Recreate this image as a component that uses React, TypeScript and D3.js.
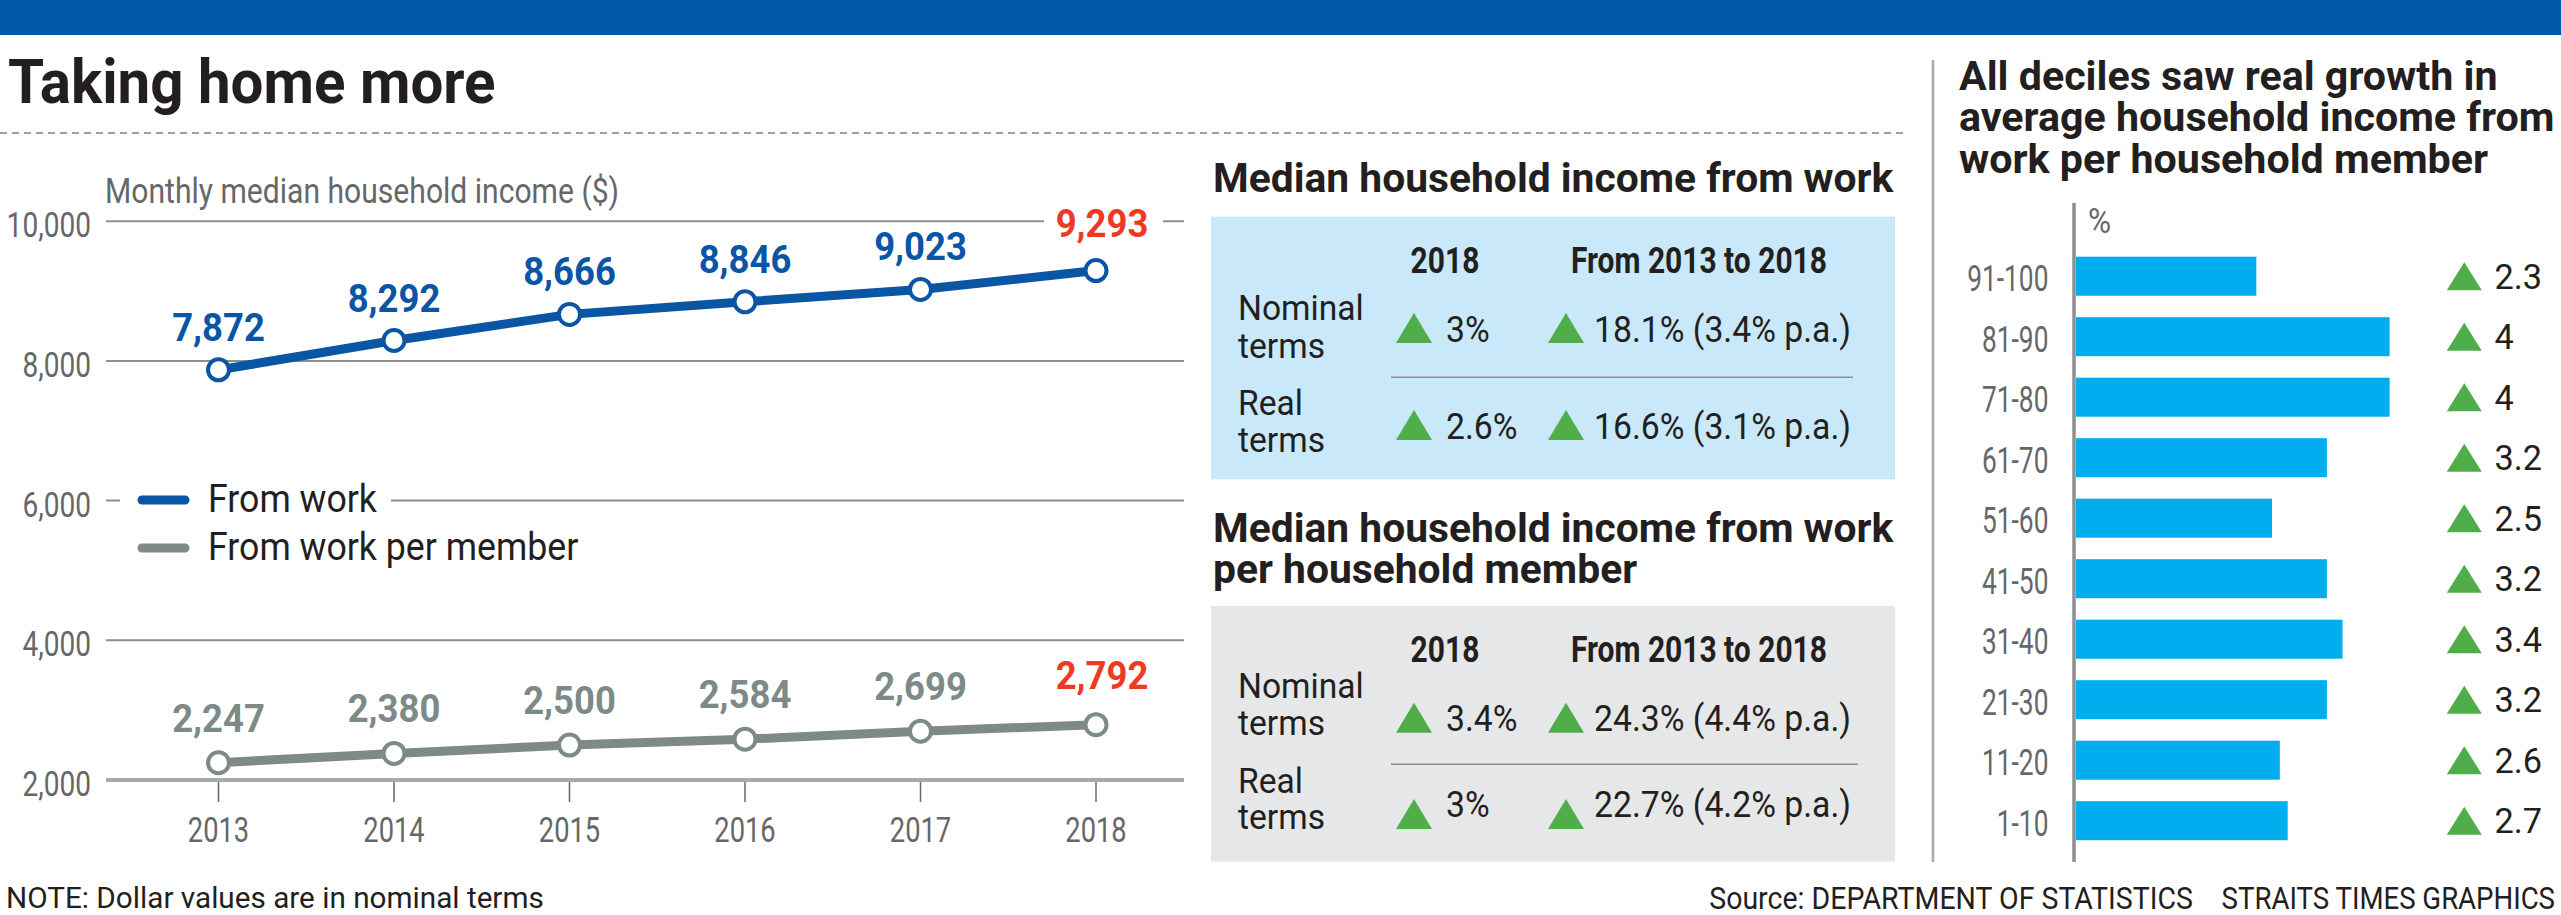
import React from 'react';
import * as d3 from 'd3';

// ---------- DATA ----------
const years = [2013, 2014, 2015, 2016, 2017, 2018];
const fromWork = [7872, 8292, 8666, 8846, 9023, 9293];
const perMember = [2247, 2380, 2500, 2584, 2699, 2792];
const yTicks = [2000, 4000, 6000, 8000, 10000];
const legendLabels = ['From work', 'From work per member'];

const tableHeaders = ['2018', 'From 2013 to 2018'];
const rowLabels = [['Nominal', 'terms'], ['Real', 'terms']];
const workYear = ['3%', '2.6%'];
const workPeriod = ['18.1% (3.4% p.a.)', '16.6% (3.1% p.a.)'];
const memberYear = ['3.4%', '3%'];
const memberPeriod = ['24.3% (4.4% p.a.)', '22.7% (4.2% p.a.)'];

const deciles = ['91-100', '81-90', '71-80', '61-70', '51-60', '41-50', '31-40', '21-30', '11-20', '1-10'];
const decileGrowth = [2.3, 4, 4, 3.2, 2.5, 3.2, 3.4, 3.2, 2.6, 2.7];

// ---------- STYLE ----------
const C = {
  topBar: '#0058a8',
  blue: '#0a55a4',
  grey: '#7d8a88',
  red: '#ee3a23',
  green: '#4fae4a',
  cyan: '#00adee',
  boxBlue: '#c9e8fa',
  boxGrey: '#e6e7e8',
  ink: '#231f20',
  axisText: '#666769',
  grid: '#8d8f91',
  sep: '#a7a9ac',
};
const FONT = 'Roboto, "Noto Sans", sans-serif';

type TP = {
  x: number; y: number; sx?: number; anchor?: 'start' | 'middle' | 'end';
  size: number; weight?: number; fill?: string; children: React.ReactNode;
};
function T({ x, y, sx = 1, anchor = 'start', size, weight = 400, fill = C.ink, children }: TP) {
  return (
    <text
      transform={`translate(${x},${y}) scale(${sx},1)`}
      textAnchor={anchor}
      fontSize={size}
      fontWeight={weight}
      fill={fill}
      fontFamily={FONT}
    >
      {children}
    </text>
  );
}

function Tri({ cx, bottom, w = 36, h = 30 }: { cx: number; bottom: number; w?: number; h?: number }) {
  const p = d3.path();
  p.moveTo(cx - w / 2, bottom);
  p.lineTo(cx + w / 2, bottom);
  p.lineTo(cx, bottom - h);
  p.closePath();
  return <path d={p.toString()} fill={C.green} />;
}

// ---------- LINE CHART ----------
function LineChart() {
  const x = d3.scalePoint<string>().domain(years.map(String)).range([218.5, 1096]);
  const y = d3.scaleLinear().domain([2000, 10000]).range([780, 221.2]);
  const gx0 = 106, gx1 = 1184;
  const series = [
    { values: fromWork, color: C.blue, off: 29 },
    { values: perMember, color: C.grey, off: 31 },
  ];
  const line = (vals: number[]) =>
    d3.line<number>().x((_, i) => x(String(years[i]))!).y((d) => y(d))(vals)!;
  const fmt = d3.format(',');
  return (
    <g>
      <T x={105} y={203} size={35} sx={0.86} weight={400} fill={C.axisText}>
        Monthly median household income ($)
      </T>
      {yTicks.map((t) => (
        <g key={t}>
          {t !== 2000 && <line x1={gx0} x2={gx1} y1={y(t)} y2={y(t)} stroke={C.grid} strokeWidth={2} />}
          <T x={91} y={y(t) + 16} size={36} sx={0.78} weight={400} anchor="end" fill={C.axisText}>
            {fmt(t)}
          </T>
        </g>
      ))}
      {/* knockouts */}
      <rect x={120} y={488} width={271} height={24} fill="#fff" />
      <rect x={1044} y={212} width={119} height={22} fill="#fff" />
      {/* baseline */}
      <line x1={gx0} x2={gx1} y1={y(2000)} y2={y(2000)} stroke={C.sep} strokeWidth={4} />
      {years.map((yr) => (
        <g key={yr}>
          <line x1={x(String(yr))} x2={x(String(yr))} y1={782} y2={802} stroke={C.axisText} strokeWidth={1.5} />
          <T x={x(String(yr))!} y={842} size={35} sx={0.78} weight={400} anchor="middle" fill={C.axisText}>
            {yr}
          </T>
        </g>
      ))}
      {series.map((s, si) => (
        <g key={si}>
          <path d={line(s.values)} fill="none" stroke={s.color} strokeWidth={9} strokeLinejoin="round" />
          {s.values.map((v, i) => (
            <circle key={i} cx={x(String(years[i]))} cy={y(v)} r={10.5} fill="#fff" stroke={s.color} strokeWidth={4} />
          ))}
          {s.values.map((v, i) => (
            <T
              key={'l' + i}
              x={x(String(years[i]))! + (i === s.values.length - 1 ? 6 : 0)}
              y={y(v) - s.off - (i === s.values.length - 1 ? 5 : 0)}
              size={38}
              sx={0.96}
              weight={700}
              anchor="middle"
              fill={i === s.values.length - 1 ? C.red : s.color}
            >
              {fmt(v)}
            </T>
          ))}
        </g>
      ))}
      {/* legend */}
      {legendLabels.map((lab, i) => {
        const cy = 500 + i * 48;
        return (
          <g key={lab}>
            <line x1={142} x2={185} y1={cy} y2={cy} stroke={i === 0 ? C.blue : C.grey} strokeWidth={9} strokeLinecap="round" />
            <T x={208} y={cy + 12} size={38} sx={0.94}>
              {lab}
            </T>
          </g>
        );
      })}
    </g>
  );
}

// ---------- TABLES ----------
type PanelLayout = {
  top: number; height: number; fill: string;
  header: number; r1: [number, number]; v1: number; t1: number; sep: number;
  r2: [number, number]; v2: number; t2: number; sepEnd: number;
};
function Table({ L, yearVals, periodVals }: { L: PanelLayout; yearVals: string[]; periodVals: string[] }) {
  const bx = 1211, bw = 684;
  const top = L.top;
  const rows = [
    { labels: L.r1, v: L.v1, t: L.t1 },
    { labels: L.r2, v: L.v2, t: L.t2 },
  ];
  return (
    <g>
      <rect x={bx} y={top} width={bw} height={L.height} fill={L.fill} />
      <T x={1445} y={top + L.header} size={37} sx={0.81} weight={700} anchor="middle">{tableHeaders[0]}</T>
      <T x={1699} y={top + L.header} size={37} sx={0.81} weight={700} anchor="middle">{tableHeaders[1]}</T>
      <line x1={1391} x2={L.sepEnd} y1={top + L.sep} y2={top + L.sep} stroke="#8d8f91" strokeWidth={1.5} />
      {rows.map((r, i) => (
        <g key={i}>
          <T x={1238} y={top + r.labels[0]} size={35} sx={0.96}>{rowLabels[i][0]}</T>
          <T x={1238} y={top + r.labels[1]} size={35} sx={0.96}>{rowLabels[i][1]}</T>
          <Tri cx={1414} bottom={top + r.t} />
          <T x={1446} y={top + r.v} size={37.5} sx={0.9}>{yearVals[i]}</T>
          <Tri cx={1566} bottom={top + r.t} />
          <T x={1594} y={top + r.v} size={37.5} sx={0.9}>{periodVals[i]}</T>
        </g>
      ))}
    </g>
  );
}

const panel1: PanelLayout = {
  top: 216.7, height: 262.6, fill: C.boxBlue, header: 56,
  r1: [103.3, 141.6], v1: 125.3, t1: 126.3, sep: 160.6,
  r2: [198.3, 235], v2: 222.6, t2: 223.3, sepEnd: 1853,
};
const panel2: PanelLayout = {
  top: 606, height: 255.7, fill: C.boxGrey, header: 55.7,
  r1: [92.3, 129], v1: 124.7, t1: 126.7, sep: 158.3,
  r2: [186.7, 223.3], v2: 210.7, t2: 223, sepEnd: 1858,
};

// ---------- BAR CHART ----------
function BarChart() {
  const x = d3.scaleLinear().domain([0, 4]).range([2076, 2389.6]);
  const y = d3.scaleBand<string>().domain(deciles).range([256.7, 840.2]).paddingInner(0.355).paddingOuter(0);
  const bw = y.bandwidth();
  return (
    <g>
      <T x={1959} y={90} size={40} sx={1.03} weight={700}>All deciles saw real growth in</T>
      <T x={1959} y={130.7} size={40} sx={1.03} weight={700}>average household income from</T>
      <T x={1959} y={172.7} size={40} sx={1.03} weight={700}>work per household member</T>
      <T x={2088} y={233} size={35} sx={0.9} fill={C.axisText}>%</T>
      {deciles.map((d, i) => {
        const cy = y(d)! + bw / 2;
        return (
          <g key={d}>
            <rect x={x(0)} y={y(d)} width={x(decileGrowth[i]) - x(0)} height={bw} fill={C.cyan} />
            <T x={2048.4} y={cy + 15} size={36} sx={0.73} anchor="end" fill={C.axisText}>{d}</T>
            <Tri cx={2464.3} bottom={cy + 14} w={35} h={28} />
            <T x={2494.5} y={cy + 12.5} size={35} sx={0.98}>{d3.format('')(decileGrowth[i])}</T>
          </g>
        );
      })}
      <line x1={2074} x2={2074} y1={203} y2={862} stroke="#8d8f91" strokeWidth={3.5} />
    </g>
  );
}

export default function App() {
  return (
    <div style={{ position: 'absolute', left: 0, top: 0 }}>
      <svg width={2561} height={915} viewBox="0 0 2561 915" style={{ display: 'block', background: '#fff' }}>
        <rect x={0} y={0} width={2561} height={915} fill="#fff" />
        <rect x={0} y={0} width={2561} height={35} fill={C.topBar} />
        <T x={8} y={103} size={62} sx={0.94} weight={700}>Taking home more</T>
        <line x1={0} x2={1906} y1={133} y2={133} stroke="#9d9fa2" strokeWidth={2} strokeDasharray="7 5" />
        <line x1={1933} x2={1933} y1={60} y2={862} stroke="#a7a9ac" strokeWidth={2.5} />
        <LineChart />
        <T x={1213} y={191.7} size={40} sx={1.02} weight={700}>Median household income from work</T>
        <Table L={panel1} yearVals={workYear} periodVals={workPeriod} />
        <T x={1213} y={541.7} size={40} sx={1.02} weight={700}>Median household income from work</T>
        <T x={1213} y={582.7} size={40} sx={1.02} weight={700}>per household member</T>
        <Table L={panel2} yearVals={memberYear} periodVals={memberPeriod} />
        <BarChart />
        <T x={6} y={908} size={30} sx={0.99}>NOTE: Dollar values are in nominal terms</T>
        <T x={2193} y={909} size={31} sx={0.92} anchor="end">Source: DEPARTMENT OF STATISTICS</T>
        <T x={2555} y={909} size={31} sx={0.89} anchor="end">STRAITS TIMES GRAPHICS</T>
      </svg>
    </div>
  );
}
